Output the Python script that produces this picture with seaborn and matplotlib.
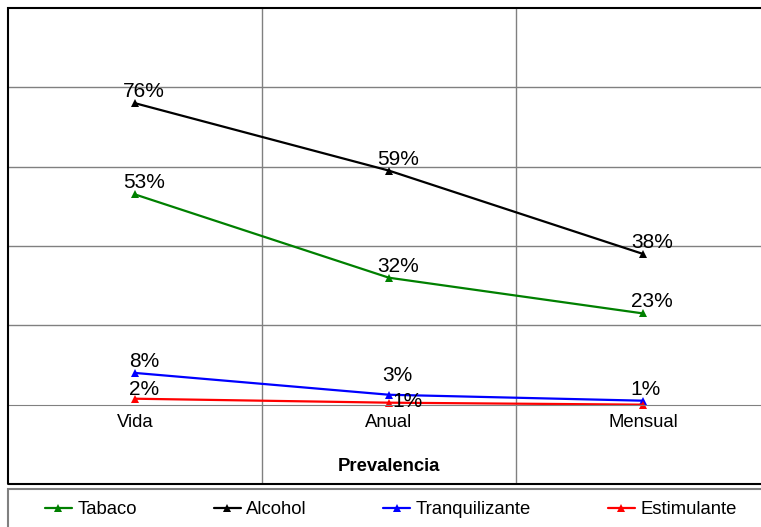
import pandas as pd
import numpy as np
import matplotlib
matplotlib.use('Agg')
import matplotlib.pyplot as plt
import seaborn as sns
from matplotlib.patches import Rectangle

periodos = ['Vida', 'Anual', 'Mensual']
series = ['Tabaco', 'Alcohol', 'Tranquilizante', 'Estimulante']
tabaco = [0.53, 0.32, 0.23]
alcohol = [0.76, 0.59, 0.38]
tranquilizante = [0.08, 0.025, 0.01]
estimulante = [0.015, 0.005, 0.0]
etiquetas = {
    'Tabaco': ['53%', '32%', '23%'],
    'Alcohol': ['76%', '59%', '38%'],
    'Tranquilizante': ['8%', '3%', '1%'],
    'Estimulante': ['2%', '1%', ''],
}
colores = ['#008000', '#000000', '#0000FF', '#FF0000']

df = pd.DataFrame({
    'Periodo': periodos * 4,
    'Serie': np.repeat(series, 3),
    'Valor': tabaco + alcohol + tranquilizante + estimulante,
})

sns.set_style("white")
plt.rcParams['font.family'] = ['Liberation Sans', 'DejaVu Sans']
plt.rcParams['text.color'] = 'black'
plt.rcParams['xtick.color'] = 'black'

W, H = 761, 527
fig = plt.figure(figsize=(W / 100, H / 100), dpi=100)
ax = fig.add_axes([8 / W, (H - 484) / H, (770 - 8) / W, (484 - 8) / H])

sns.lineplot(data=df, x='Periodo', y='Valor', hue='Serie', palette=colores,
             marker='^', markersize=6, markeredgewidth=0, linewidth=1.6,
             sort=False, ax=ax)

ax.set_xlim(-0.5, 2.5)
ax.set_ylim(-0.2, 1.0)

# grid
for y in [0.2, 0.4, 0.6, 0.8]:
    ax.axhline(y, color='#808080', lw=1, zorder=0)
for x in [0.5, 1.5]:
    ax.axvline(x, color='#808080', lw=1, zorder=0)

for s in ['top', 'left', 'right']:
    ax.spines[s].set_color('black')
    ax.spines[s].set_linewidth(1.2)
ax.spines['bottom'].set_position(('data', 0))
ax.spines['bottom'].set_color('#808080')
ax.add_patch(Rectangle((0, 0), 1, 1, transform=ax.transAxes, fill=False,
                       edgecolor='black', lw=1.5, clip_on=False, zorder=5))

ax.set_yticks([])
ax.set_xticks(range(3))
ax.set_xticklabels(periodos, fontsize=13.3, color='black')
ax.tick_params(axis='x', length=0, pad=7)
ax.set_xticks([0.5, 1.5], minor=True)
ax.tick_params(axis='x', which='minor', length=5, color='#404040', width=1.5)
ax.set_ylabel('')
ax.text(1, -0.155, 'Prevalencia', fontsize=13.3, fontweight='bold',
        ha='center', va='center', color='black')
ax.set_xlabel('')

# offsets (pixels) of the data labels
desplaz = {
    'Tranquilizante': [(9, 2), (8, 10), (2, 2)],
    'Estimulante': [(9, 0), (18, -8), (9, 2)],
}
for s, vals in zip(series, [tabaco, alcohol, tranquilizante, estimulante]):
    for i, v in enumerate(vals):
        if etiquetas[s][i]:
            off = desplaz.get(s, [(9, 2)] * 3)[i]
            ax.annotate(etiquetas[s][i], (i, v), xytext=off,
                        textcoords='offset pixels', ha='center', va='bottom',
                        fontsize=15, zorder=6, color='black')

handles, labels = ax.get_legend_handles_labels()
ax.get_legend().remove()
fig.patches.append(Rectangle((8 / W, -0.1), 1, (H - 489) / H + 0.1,
                             transform=fig.transFigure, fill=False,
                             edgecolor='#808080', lw=1.5))
leg = fig.legend(handles, labels, loc='center left', ncol=4, frameon=False,
                 bbox_to_anchor=(45 / W, (H - 510) / H), borderaxespad=0,
                 borderpad=0, fontsize=13.3, handlelength=1.46,
                 handletextpad=0.3, columnspacing=4.15)
for t in leg.get_texts():
    t.set_color('black')

fig.savefig('out.png', dpi=100)
